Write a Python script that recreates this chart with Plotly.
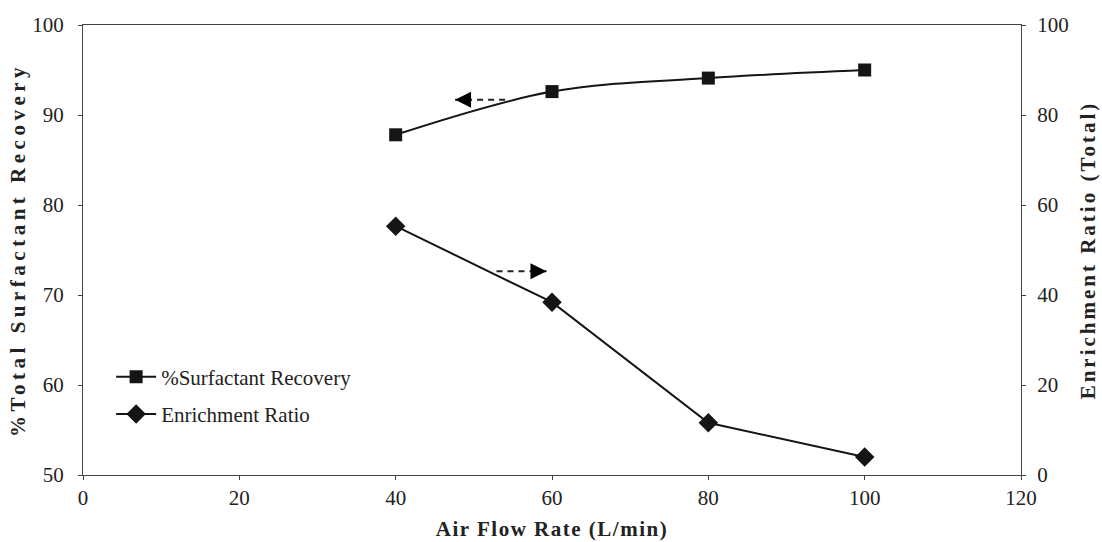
import plotly.graph_objects as go

air_flow = [40, 60, 80, 100]
recovery = [87.8, 92.6, 94.1, 95.0]
enrichment = [55.3, 38.4, 11.6, 4.0]

x_ticks = [0, 20, 40, 60, 80, 100, 120]
y_left_ticks = [50, 60, 70, 80, 90, 100]
y_right_ticks = [0, 20, 40, 60, 80, 100]

# indicator arrows (data coords): [tail_x, head_x], y
arrow_left_x = [54.0, 47.6]
arrow_left_y = 91.7
arrow_right_x = [52.9, 59.3]
arrow_right_y = 45.3

FONT = "Liberation Serif"
INK = "#151515"

fig = go.Figure()
fig.add_trace(go.Scatter(
    x=air_flow, y=recovery, name="%Surfactant Recovery", legendgroup="a",
    mode="lines+markers", line=dict(color=INK, width=2, shape="spline"),
    marker=dict(symbol="square", size=13, color=INK),
))
fig.add_trace(go.Scatter(
    x=air_flow, y=enrichment, name="Enrichment Ratio", yaxis="y2", legendgroup="b",
    mode="lines+markers", line=dict(color=INK, width=2),
    marker=dict(symbol="diamond", size=15, color=INK),
))

# dashed arrow shafts
fig.add_trace(go.Scatter(
    x=arrow_left_x, y=[arrow_left_y, arrow_left_y], mode="lines",
    line=dict(color="#222", width=2, dash="6px,5px"),
    showlegend=False, hoverinfo="skip",
))
fig.add_trace(go.Scatter(
    x=arrow_right_x, y=[arrow_right_y, arrow_right_y], mode="lines", yaxis="y2",
    line=dict(color="#222", width=2, dash="6px,5px"),
    showlegend=False, hoverinfo="skip",
))

# arrow heads
head_style = dict(showarrow=True, arrowhead=2, arrowsize=1.6, arrowwidth=2,
                  arrowcolor="#000", text="", ay=0, standoff=0, startstandoff=0)
fig.add_annotation(x=arrow_left_x[1], y=arrow_left_y, xref="x", yref="y", ax=10, **head_style)
fig.add_annotation(x=arrow_right_x[1], y=arrow_right_y, xref="x", yref="y2", ax=-10, **head_style)

axis_common = dict(
    showgrid=False, zeroline=False, showline=True, linecolor="#444", linewidth=1,
    ticks="outside", ticklen=4, tickcolor="#444", automargin=False,
    tickfont=dict(family=FONT, size=21, color="#222"),
)

fig.update_layout(
    width=1102, height=542,
    margin=dict(l=83, r=81, t=25, b=67),
    paper_bgcolor="white", plot_bgcolor="white",
    font=dict(family=FONT, color="#222"),
    xaxis=dict(
        **axis_common, range=[0, 120], tickvals=x_ticks, mirror=True,
        title=dict(text="<b>Air Flow Rate (L/min)</b>", font=dict(family=FONT, size=21), standoff=12),
    ),
    yaxis=dict(
        **axis_common, range=[50, 100], tickvals=y_left_ticks, ticklabelstandoff=10,
        title=dict(text="<b>%Total Surfactant Recovery</b>", font=dict(family=FONT, size=21), standoff=0),
    ),
    yaxis2=dict(
        **axis_common, range=[0, 100], tickvals=y_right_ticks, overlaying="y", side="right",
        ticklabelstandoff=7,
        title=dict(text="<b>Enrichment Ratio (Total)</b>", font=dict(family=FONT, size=21), standoff=12),
    ),
    legend=dict(
        x=0.03, y=0.263, xanchor="left", yanchor="top",
        bgcolor="rgba(0,0,0,0)", font=dict(family=FONT, size=21, color="#222"),
        itemwidth=40, tracegroupgap=7,
    ),
)

post = """
document.body.style.margin = '0';
var gd = document.getElementById('{plot_id}');
function spread(){
  var s = [['.xtitle','1.5px'],['.ytitle','4.5px'],['.y2title','3px']];
  s.forEach(function(p){
    gd.querySelectorAll(p[0]).forEach(function(t){ t.style.letterSpacing = p[1]; });
  });
}
spread();
gd.on('plotly_afterplot', spread);
"""

fig.write_html("out.html", post_script=post, config={"displayModeBar": False})
